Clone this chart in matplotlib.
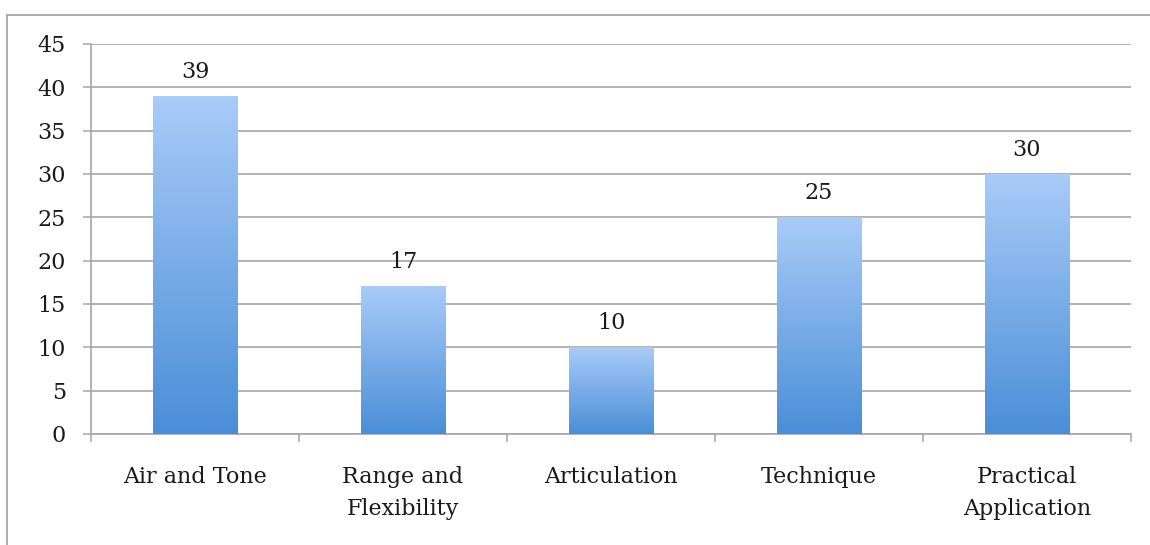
import matplotlib
matplotlib.use("Agg")
import matplotlib.pyplot as plt
import numpy as np
from matplotlib.lines import Line2D
from matplotlib.colors import LinearSegmentedColormap

categories = ["Air and Tone", "Range and\nFlexibility", "Articulation", "Technique", "Practical\nApplication"]
values = [39, 17, 10, 25, 30]
yticks = [0, 5, 10, 15, 20, 25, 30, 35, 40, 45]

plt.rcParams['font.family'] = ['DejaVu Serif']

fig = plt.figure(figsize=(11.5, 5.45), dpi=100)
ax = fig.add_axes([91/1150, 1-434/545, (1131-91)/1150, (434-44)/545])

gray = '#a6a6a6'
tc = '#1a1a1a'
fs = 16
x = np.arange(len(categories))
width = 0.405
bars = ax.bar(x, values, width=width, color='none', zorder=3)

cmap = LinearSegmentedColormap.from_list('g', ['#4a8ed8', '#a9cbf8'])
grad = np.linspace(0, 1, 256).reshape(-1, 1)
for b, v in zip(bars, values):
    x0, y0 = b.get_x(), b.get_y()
    w, h = b.get_width(), b.get_height()
    ax.imshow(grad, cmap=cmap, origin='lower', aspect='auto',
              extent=(x0, x0 + w, y0, y0 + h), zorder=3, interpolation='bilinear')
    ax.text(x0 + w/2, h + 1.55, f"{v}", ha='center', va='bottom',
            fontsize=fs, color=tc, zorder=4)

ax.set_xlim(-0.5, len(categories) - 0.5)
ax.set_ylim(0, 45)
ax.set_yticks(yticks)
ax.set_yticklabels([str(t) for t in yticks], fontsize=fs, color=tc)
ax.set_xticks(x)
ax.set_xticklabels(categories, fontsize=fs, color=tc, linespacing=1.58)
ax.set_xticks(np.arange(-0.5, len(categories), 1), minor=True)
ax.tick_params(axis='x', which='major', length=0, pad=23)
ax.tick_params(axis='x', which='minor', length=6, width=1.1, color=gray, direction='out')
ax.tick_params(axis='y', length=6, width=1.1, color=gray, pad=12)

ax.grid(axis='y', color=gray, linewidth=1.2, zorder=0)
ax.set_axisbelow(True)
for s in ['top', 'right']:
    ax.spines[s].set_visible(False)
for s in ['left', 'bottom']:
    ax.spines[s].set_color(gray)
    ax.spines[s].set_linewidth(1.2)

# outer chart frame (top and left edges)
fy = 1 - 15/545
fx = 7/1150
fig.add_artist(Line2D([fx, 1.0], [fy, fy], transform=fig.transFigure, color=gray, linewidth=1.3))
fig.add_artist(Line2D([fx, fx], [0, fy], transform=fig.transFigure, color=gray, linewidth=1.3))

fig.savefig("out.png", dpi=100)
